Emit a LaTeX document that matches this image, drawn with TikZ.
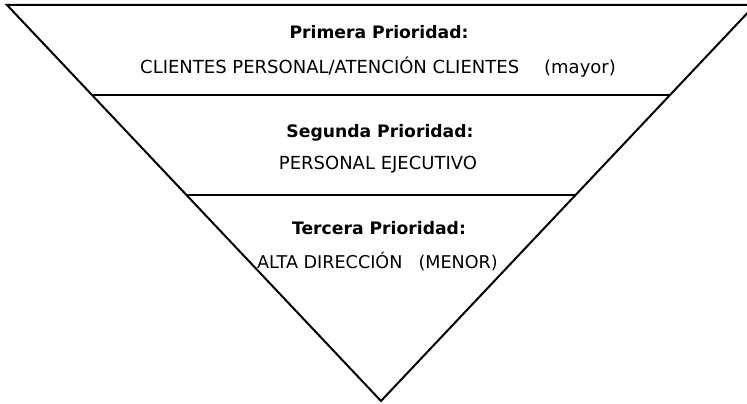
\documentclass[tikz,border=0pt]{standalone}
\usepackage{fontspec}
\setmainfont{DejaVu Sans}
\usetikzlibrary{calc}
\begin{document}
\begin{tikzpicture}[x=1pt,y=-1pt,
  edge/.style={line width=2pt,line join=miter},
  head/.style={font=\fontsize{17.2}{20}\selectfont\bfseries,anchor=base,inner sep=0pt},
  body/.style={font=\fontsize{18}{20}\selectfont,inner sep=0pt},
  bodysm/.style={font=\fontsize{17.6}{20}\selectfont,inner sep=0pt}]
\useasboundingbox (0,0) rectangle (747,404);
\clip (0,0) rectangle (747,404);
\coordinate (TL) at (7,5);
\coordinate (TR) at (755,5);
\coordinate (A) at (381,401);
\draw[edge] (TL) -- (TR) -- (A) -- cycle;
\coordinate (L1) at ($(TL)!0.2273!(A)$);
\coordinate (R1) at ($(TR)!0.2273!(A)$);
\coordinate (L2) at ($(TL)!0.4798!(A)$);
\coordinate (R2) at ($(TR)!0.4798!(A)$);
\draw[edge] (L1) -- (R1);
\draw[edge] (L2) -- (R2);
\node[head] (h1) at (379,39) {Primera Prioridad:};
\node[body,anchor=base west] (b1) at (140,74) {CLIENTES PERSONAL/ATENCIÓN CLIENTES\hspace{25pt}(mayor)};
\node[head] (h2) at (380,137) {Segunda Prioridad:};
\node[body,anchor=base] (b2) at (378,169) {PERSONAL EJECUTIVO};
\node[head] (h3) at (379,234) {Tercera Prioridad:};
\node[bodysm,anchor=base west] (b3) at (257,268) {ALTA DIRECCIÓN\hspace{16pt}(MENOR)};
\end{tikzpicture}
\end{document}
